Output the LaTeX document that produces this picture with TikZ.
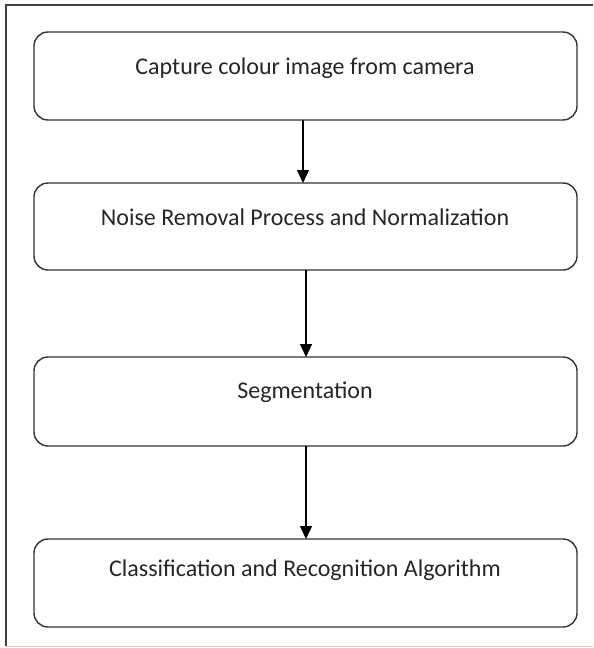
\documentclass[tikz,border=0pt]{standalone}
\usepackage{fontspec}
\setmainfont{Carlito}
\usetikzlibrary{arrows.meta}
\begin{document}
\begin{tikzpicture}[x=1pt,y=-1pt,
  stepbox/.style={draw=black!80,line width=1.4pt,rounded corners=14pt},
  lbl/.style={font=\fontsize{24}{28}\selectfont,text=black!85,anchor=center},
  arr/.style={-{Triangle[length=13pt,width=12pt]},line width=1.3pt,black}]
\useasboundingbox (0,0) rectangle (594,648);
\draw[black!75,line width=1.6pt] (6,646) -- (6,5) -- (593,5);
\draw[black!20,line width=1pt] (6,646) -- (593,646);
\draw[stepbox] (34,32) rectangle (577,120);
\draw[stepbox] (34,183) rectangle (577,270);
\draw[stepbox] (34,357) rectangle (577,446);
\draw[stepbox] (34,539) rectangle (577,627);
\node[lbl] (t1) at (305,68) {Capture colour image from camera};
\node[lbl] (t2) at (305,217) {Noise Removal Process and Normalization};
\node[lbl] (t3) at (305,392) {Segmentation};
\node[lbl] (t4) at (305,570) {Classification and Recognition Algorithm};
\coordinate (a1) at (303,120);
\coordinate (b1) at (303,183);
\coordinate (a2) at (306,270);
\coordinate (b2) at (306,357);
\coordinate (a3) at (306,446);
\coordinate (b3) at (306,539);
\draw[arr] (a1) -- (b1);
\draw[arr] (a2) -- (b2);
\draw[arr] (a3) -- (b3);
\end{tikzpicture}
\end{document}
